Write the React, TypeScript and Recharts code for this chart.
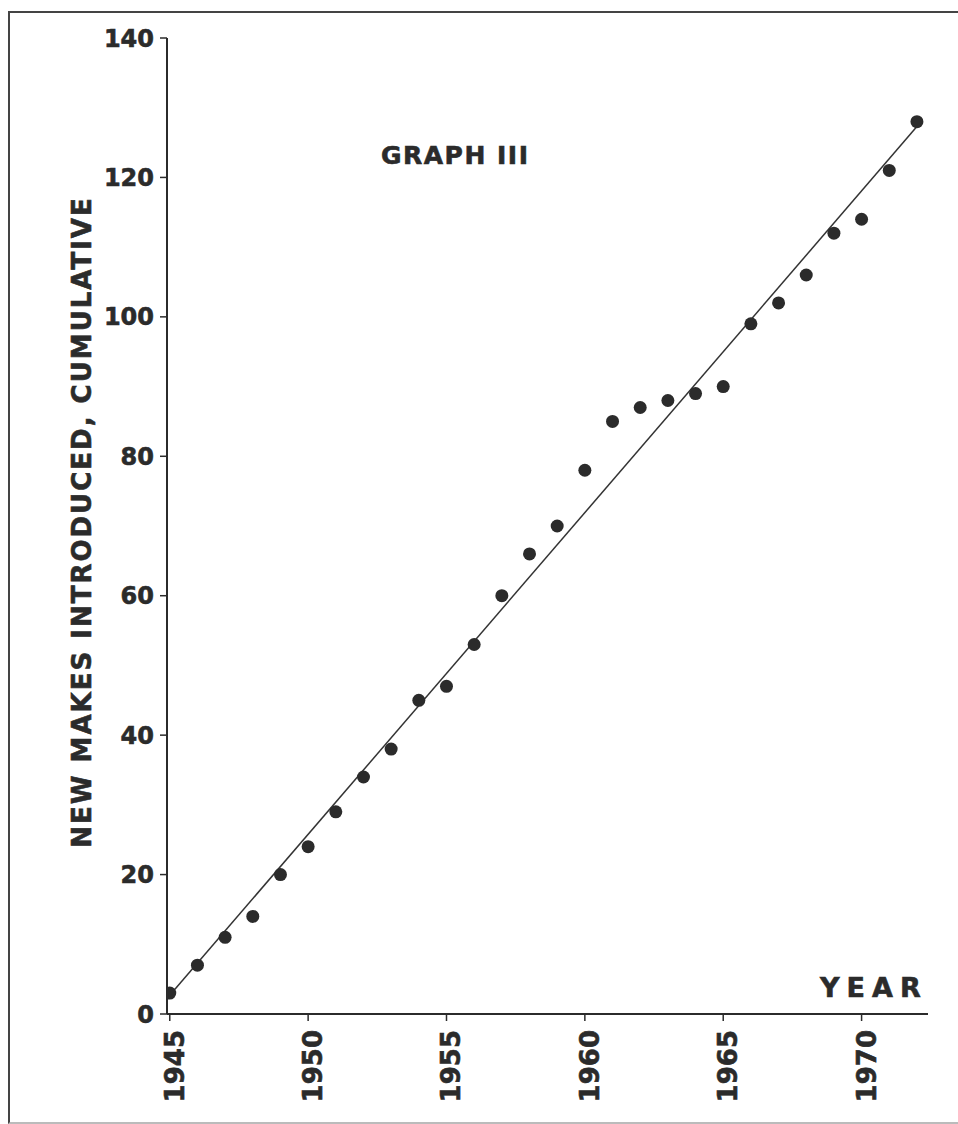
import { ScatterChart, Scatter, XAxis, YAxis } from "recharts";

// cumulative count of new makes
const years = [
  1945, 1946, 1947, 1948, 1949, 1950, 1951, 1952, 1953, 1954, 1955, 1956, 1957, 1958,
  1959, 1960, 1961, 1962, 1963, 1964, 1965, 1966, 1967, 1968, 1969, 1970, 1971, 1972,
];
const newMakes = [
  3, 7, 11, 14, 20, 24, 29, 34, 38, 45, 47, 53, 60, 66,
  70, 78, 85, 87, 88, 89, 90, 99, 102, 106, 112, 114, 121, 128,
];

// fitted straight line, end points
const trendYears = [1945, 1972];
const trendValues = [2.7, 127.3];

const xTicks = [1945, 1950, 1955, 1960, 1965, 1970];
const yTicks = [0, 20, 40, 60, 80, 100, 120, 140];

const ink = "#2b2b2b";
const font = "'DejaVu Sans', sans-serif";

const points = years.map((year, i) => ({ year, value: newMakes[i] }));
const trend = trendYears.map((year, i) => ({ year, value: trendValues[i] }));

const YearTick = (props: any) => {
  const { x, y, payload } = props;
  return (
    <text
      x={0}
      y={0}
      transform={`translate(${x + 5},${y + 9}) rotate(-90)`}
      textAnchor="end"
      dominantBaseline="central"
      fill={ink}
      stroke={ink}
      strokeWidth={0.6}
      fontSize={26}
      fontWeight="bold"
      fontFamily={font}
    >
      {payload.value}
    </text>
  );
};

const Dot = (props: any) => <circle cx={props.cx} cy={props.cy} r={6.5} fill={ink} />;

const heavy = {
  position: "absolute" as const,
  whiteSpace: "nowrap" as const,
  fontFamily: font,
  fontWeight: "bold" as const,
  color: ink,
  WebkitTextStroke: `0.6px ${ink}`,
};

export default function App() {
  return (
    <div style={{ position: "absolute", left: 0, top: 0, width: 958, height: 1124, background: "#fff", overflow: "hidden" }}>
      <div
        style={{
          position: "absolute",
          left: 8,
          top: 11,
          width: 1000,
          height: 1109,
          borderLeft: "2px solid #444",
          borderTop: "2px solid #444",
          borderBottom: "2px solid #bbb",
        }}
      />
      <ScatterChart width={958} height={1124} margin={{ top: 38, right: 30, bottom: 20, left: 87 }}>
        <XAxis
          type="number"
          dataKey="year"
          domain={[1944.9, 1972.4]}
          ticks={xTicks}
          height={90}
          tickSize={7}
          tickMargin={0}
          axisLine={{ stroke: ink, strokeWidth: 2 }}
          tickLine={{ stroke: ink, strokeWidth: 1.5 }}
          tick={<YearTick />}
          allowDataOverflow
        />
        <YAxis
          type="number"
          dataKey="value"
          domain={[0, 140]}
          ticks={yTicks}
          width={80}
          tickSize={7}
          tickMargin={6}
          axisLine={{ stroke: ink, strokeWidth: 2 }}
          tickLine={{ stroke: ink, strokeWidth: 1.5 }}
          tick={{ fill: ink, stroke: ink, strokeWidth: 0.6, fontSize: 24, fontWeight: "bold", fontFamily: font }}
        />
        <Scatter
          data={trend}
          line={{ stroke: "#333", strokeWidth: 1.5 }}
          shape={() => <g />}
          isAnimationActive={false}
        />
        <Scatter data={points} shape={<Dot />} isAnimationActive={false} />
      </ScatterChart>
      <div
        style={{
          ...heavy,
          left: 82,
          top: 522,
          transform: "translate(-50%, -50%) rotate(-90deg)",
          fontSize: 26,
          letterSpacing: 2,
        }}
      >
        NEW MAKES INTRODUCED, CUMULATIVE
      </div>
      <div style={{ ...heavy, left: 381, top: 141, fontSize: 25, letterSpacing: 1.5 }}>
        GRAPH III
      </div>
      <div style={{ ...heavy, left: 820, top: 972, fontSize: 27, letterSpacing: 7 }}>
        YEAR
      </div>
    </div>
  );
}
